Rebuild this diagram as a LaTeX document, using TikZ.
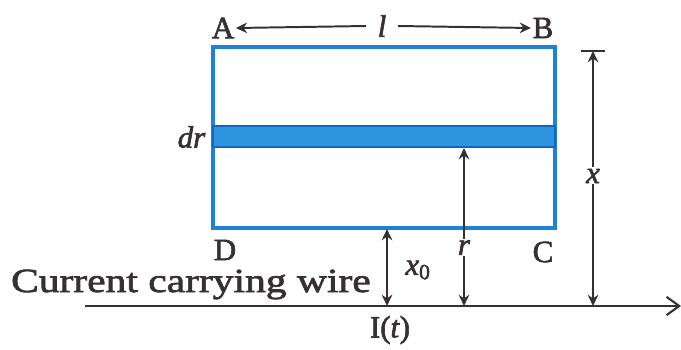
\documentclass[tikz,border=0pt]{standalone}
\usepackage{fontspec}
\setmainfont[FakeBold=2]{Liberation Serif}
\newfontfamily\widefont[FakeBold=2,FakeStretch=1.23]{Liberation Serif}
\usetikzlibrary{arrows.meta}
\definecolor{loopblue}{RGB}{30,130,215}
\definecolor{stripfill}{RGB}{45,150,225}
\definecolor{stripedge}{RGB}{20,100,195}
\definecolor{inkgray}{RGB}{55,48,48}
\tikzset{
    dimarrow/.style={inkgray, line width=1.4pt, {Stealth[length=8pt,width=7.5pt]}-{Stealth[length=8pt,width=7.5pt]}},
    oneway/.style={inkgray, line width=1.4pt, -{Stealth[length=8pt,width=7.5pt]}},
    lbl/.style={text=inkgray, inner sep=1pt}
}
\begin{document}
\begin{tikzpicture}[x=0.025cm, y=-0.025cm, font=\fontsize{22}{26}\selectfont]
    \useasboundingbox (0,0) rectangle (681,349);
    % Loop ABCD
    \draw[loopblue, line width=2.2pt] (213,47) rectangle (555,228);
    \fill[stripfill, draw=stripedge, line width=1.2pt] (213,126) rectangle (555,147);
    \node[lbl, anchor=east] (dr) at (207,137) {\textit{dr}};
    % Corners
    \node[lbl] (A) at (223,28) {A};
    \node[lbl] (B) at (543,28) {B};
    \node[lbl, inner sep=0pt] (D) at (225,250) {D};
    \node[lbl] (C) at (543,252) {C};
    % Length l
    \node[lbl, inner sep=8pt] (len) at (382,26) {\textit{l}};
    \draw[oneway] (len.west) -- (A.east);
    \draw[oneway] (len.east) -- (B.west);
    % Wire
    \coordinate (wireW) at (85,306);
    \coordinate (wireE) at (681,306);
    \draw[inkgray, line width=1.5pt, -{Straight Barb[length=9pt,width=13pt]}] (wireW) -- (wireE);
    \node[lbl, inner sep=0pt, anchor=base east] (wire) at (371,292) {\fontsize{24}{28}\widefont Current carrying wire};
    \node[lbl] (It) at (390,330) {I(\textit{t})};
    % Distance x0
    \coordinate (xotop) at (387,229);
    \coordinate (xobot) at (387,306);
    \draw[dimarrow] (xotop) -- (xobot);
    \node[lbl] (xo) at (418,270) {\textit{x}\textsubscript{0}};
    % Distance r
    \coordinate (rtop) at (464,148);
    \coordinate (rbot) at (464,306);
    \draw[dimarrow] (rtop) -- (rbot) node[lbl, pos=0.63, fill=white] (r) {\textit{r}};
    % Distance x
    \coordinate (xtop) at (593,51);
    \coordinate (xbot) at (593,306);
    \draw[inkgray, line width=1.5pt] (xtop) ++(-12,0) -- ++(24,0);
    \draw[dimarrow] (xtop) -- (xbot) node[lbl, pos=0.49, fill=white] (x) {\textit{x}};
\end{tikzpicture}
\end{document}
